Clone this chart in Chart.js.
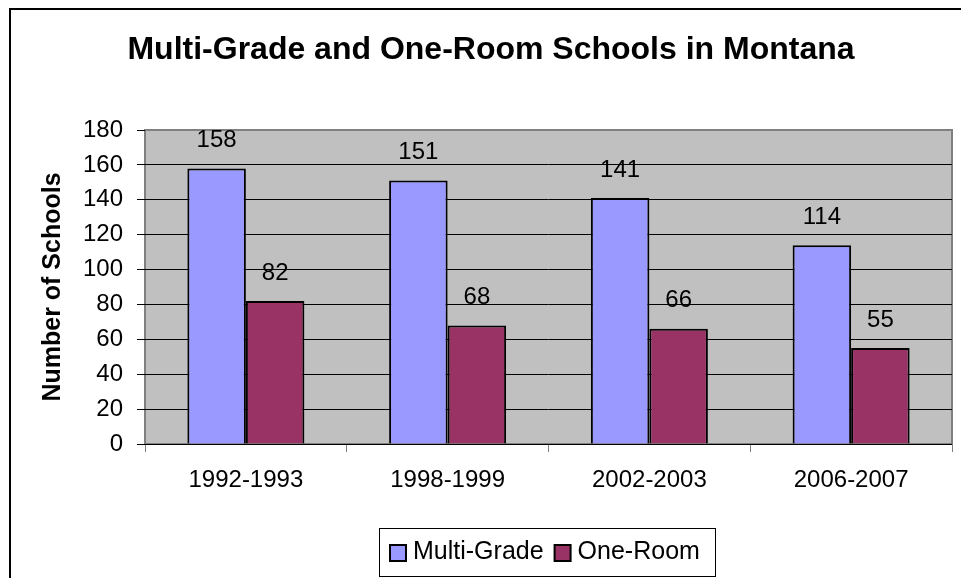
<!DOCTYPE html>
<html>
<head>
<meta charset="utf-8">
<title>Multi-Grade and One-Room Schools in Montana</title>
<script src="https://cdn.jsdelivr.net/npm/chart.js@4/dist/chart.umd.min.js"></script>
<style>
  html, body { margin: 0; padding: 0; background: #fff; }
  canvas { display: block; }
</style>
</head>
<body>
<canvas id="myChart" width="961" height="578"></canvas>
<script>
// chart values
const years = ["1992-1993", "1998-1999", "2002-2003", "2006-2007"];
const multiGrade = [158, 151, 141, 114];
const oneRoom = [82, 68, 66, 55];
const seriesNames = ["Multi-Grade", "One-Room"];
const chartTitle = "Multi-Grade and One-Room Schools in Montana";
const yTitle = "Number of Schools";

const fontName = "'Liberation Sans', Arial, sans-serif";

// outer frame, grey plot area, title, labels and boxed legend
const excelLook = {
  id: "excelLook",
  beforeDraw(chart) {
    const ctx = chart.ctx;
    const a = chart.chartArea;
    ctx.save();
    ctx.fillStyle = "#ffffff";
    ctx.fillRect(0, 0, chart.width, chart.height);
    // frame around the whole chart (runs off the right / bottom)
    ctx.strokeStyle = "#000000";
    ctx.lineWidth = 2;
    ctx.strokeRect(10, 9, chart.width + 20, chart.height + 20);
    // plot area
    ctx.fillStyle = "#c0c0c0";
    ctx.fillRect(a.left, a.top, a.right - a.left, a.bottom - a.top);
    ctx.strokeStyle = "#808080";
    ctx.lineWidth = 2;
    ctx.strokeRect(a.left, a.top, a.right - a.left, a.bottom - a.top);
    // title
    ctx.fillStyle = "#000";
    ctx.font = "bold 32px " + fontName;
    ctx.textAlign = "center";
    ctx.textBaseline = "middle";
    ctx.fillText(chartTitle, 491, 50);
    ctx.restore();
  },
  afterDatasetsDraw(chart) {
    const ctx = chart.ctx;
    ctx.save();
    ctx.fillStyle = "#000";
    ctx.font = "24px " + fontName;
    ctx.textAlign = "center";
    ctx.textBaseline = "middle";
    chart.data.datasets.forEach((ds, i) => {
      chart.getDatasetMeta(i).data.forEach((bar, j) => {
        ctx.fillText(String(ds.data[j]), bar.x, bar.y - 28);
      });
    });

    // legend box
    const lx = 379, ly = 528, lw = 336, lh = 48;
    ctx.strokeStyle = "#000";
    ctx.lineWidth = 1;
    ctx.strokeRect(lx + 0.5, ly + 0.5, lw, lh);
    ctx.font = "25px " + fontName;
    ctx.textAlign = "left";
    let x = 390;
    chart.data.datasets.forEach((ds) => {
      ctx.fillStyle = ds.backgroundColor;
      ctx.fillRect(x, 545, 16, 16);
      ctx.strokeStyle = "#000";
      ctx.lineWidth = 2;
      ctx.strokeRect(x, 545, 16, 16);
      ctx.fillStyle = "#000";
      ctx.fillText(ds.label, x + 23, 552);
      x += 23 + ctx.measureText(ds.label).width + 11;
    });
    ctx.restore();
  }
};

const context = document.getElementById("myChart").getContext("2d");

const myChart = new Chart(context, {
  type: "bar",
  data: {
    labels: years,
    datasets: [
      {
        label: seriesNames[0],
        data: multiGrade,
        backgroundColor: "#9999ff",
        borderColor: "#000000",
        borderWidth: 2
      },
      {
        label: seriesNames[1],
        data: oneRoom,
        backgroundColor: "#993366",
        borderColor: "#000000",
        borderWidth: 2
      }
    ]
  },
  options: {
    responsive: false,
    animation: false,
    events: [],
    layout: {
      padding: { left: 10, right: 9, top: 130, bottom: 74 }
    },
    datasets: {
      bar: { categoryPercentage: 0.58, barPercentage: 1.0 }
    },
    plugins: {
      legend: { display: false },
      title: { display: false },
      tooltip: { enabled: false }
    },
    scales: {
      x: {
        grid: {
          offset: true,
          drawOnChartArea: false,
          drawTicks: true,
          tickLength: 8,
          color: "#808080",
          lineWidth: 1
        },
        border: { display: false },
        ticks: {
          color: "#000",
          font: { family: fontName, size: 24 },
          padding: 14,
          maxRotation: 0
        },
        afterFit(scale) { scale.height = 60; }
      },
      y: {
        min: 0,
        max: 180,
        grid: {
          color: (c) => (c.tick && c.tick.value === 180 ? "rgba(0,0,0,0)" : "#000000"),
          tickColor: "#000000",
          tickLength: 8,
          lineWidth: 1
        },
        border: { display: false },
        ticks: {
          stepSize: 20,
          color: "#000",
          font: { family: fontName, size: 24 },
          padding: 14
        },
        title: {
          display: true,
          text: yTitle,
          color: "#000",
          font: { family: fontName, size: 25, weight: "bold" },
          padding: { top: 28, bottom: 0 }
        },
        afterFit(scale) { scale.width = 135; }
      }
    }
  },
  plugins: [excelLook]
});
</script>
</body>
</html>
